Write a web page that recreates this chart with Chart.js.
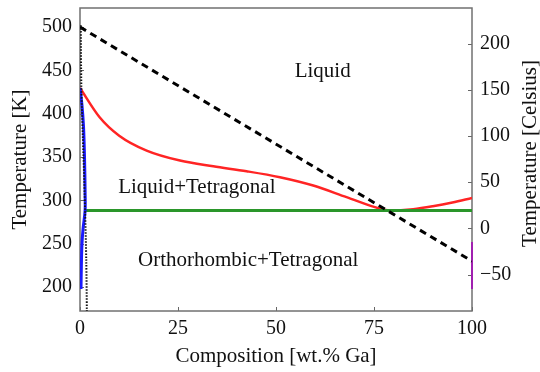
<!DOCTYPE html>
<html>
<head>
<meta charset="utf-8">
<script src="https://cdn.jsdelivr.net/npm/chart.js@4"></script>
<style>
  html, body { margin: 0; padding: 0; background: #fff; }
  #wrap { width: 540px; height: 372px; }
</style>
</head>
<body>
<div id="wrap"><canvas id="phaseChart"></canvas></div>
<script>
// In-Ga phase diagram, composition vs temperature
const compTicks = [0, 25, 50, 75, 100];
const kelvinTicks = [200, 250, 300, 350, 400, 450, 500];
const celsiusTicks = [-50, 0, 50, 100, 150, 200];

// liquidus (red)
const liquidusX = [0, 5, 10, 17, 25.5, 34, 42.5, 51, 59.5, 68, 76.5, 79, 85, 90, 95, 100];
const liquidusT = [429.75, 396, 374.7, 357.5, 346, 339.4, 333.7, 326.8, 317.2, 303.8, 290.5, 288.5, 290, 293.3, 297.6, 302.9];

// eutectic line (green)
const eutecticX = [1.3, 100];
const eutecticT = [288.5, 288.5];

// In-rich solidus / solvus (blue)
const solidusX = [0, 0.5, 0.9, 1.15, 1.3, 1.3, 0.8, 0.5, 0.35, 0.25];
const solidusT = [429.75, 410, 385, 350, 310, 288.5, 268, 250, 225, 198];

// Ga-side solidus (purple)
const gaSideX = [100, 100];
const gaSideT = [198, 252];

// T0 line (black dashed)
const t0X = [0, 100];
const t0T = [500, 230];

// metastable boundary (black dotted)
const dottedX = [0.2, 0.35, 0.9, 1.3, 1.6, 1.75];
const dottedT = [502, 430, 350, 288, 230, 172.5];

// region labels
const regionNames = ['Liquid', 'Liquid+Tetragonal', 'Orthorhombic+Tetragonal'];
const regionX = [61.9, 29.8, 42.9];
const regionT = [448.6, 315.3, 230.2];

const serif = '"Liberation Serif", "DejaVu Serif", serif';

function pts(xs, ys) {
    return xs.map((x, i) => ({ x: x, y: ys[i] }));
}

// fixed box sizes, no label overflow padding
function fixBox(size) {
    return s => {
        if (s.isHorizontal()) s.height = size; else s.width = size;
        s.paddingTop = 0; s.paddingBottom = 0;
        s.paddingLeft = 0; s.paddingRight = 0;
    };
}

const frameAndExtras = {
    id: 'frameAndExtras',
    beforeDatasetsDraw(chart) {
        const { ctx, chartArea: a, scales } = chart;
        ctx.save();
        // inside tick marks
        ctx.strokeStyle = '#666';
        ctx.lineWidth = 1;
        compTicks.forEach(v => {
            const px = Math.round(scales.x.getPixelForValue(v)) + 0.5;
            ctx.beginPath(); ctx.moveTo(px, a.bottom); ctx.lineTo(px, a.bottom - 4); ctx.stroke();
        });
        kelvinTicks.forEach(v => {
            const py = Math.round(scales.y.getPixelForValue(v)) + 0.5;
            ctx.beginPath(); ctx.moveTo(a.left, py); ctx.lineTo(a.left + 4, py); ctx.stroke();
        });
        celsiusTicks.forEach(v => {
            const py = Math.round(scales.y2.getPixelForValue(v)) + 0.5;
            ctx.beginPath(); ctx.moveTo(a.right, py); ctx.lineTo(a.right - 4, py); ctx.stroke();
        });
        // frame
        ctx.strokeStyle = '#707070';
        ctx.lineWidth = 1.5;
        ctx.strokeRect(a.left, a.top, a.right - a.left, a.bottom - a.top);
        ctx.restore();
    },
    afterDatasetsDraw(chart) {
        const { ctx, chartArea: a, scales } = chart;
        ctx.save();
        // region labels
        ctx.fillStyle = '#111';
        ctx.font = '21px ' + serif;
        ctx.textAlign = 'center';
        ctx.textBaseline = 'middle';
        regionNames.forEach((t, i) => {
            ctx.fillText(t, scales.x.getPixelForValue(regionX[i]), scales.y.getPixelForValue(regionT[i]));
        });

        // right axis title, reading upward
        ctx.translate(530, (a.top + a.bottom) / 2 - 6);
        ctx.rotate(-Math.PI / 2);
        ctx.fillText('Temperature [Celsius]', 0, 0);
        ctx.restore();
    }
};

const ctx = document.getElementById('phaseChart');
new Chart(ctx, {
    type: 'line',
    data: {
        datasets: [
            {
                label: 'dotted',
                data: pts(dottedX, dottedT),
                borderColor: '#111',
                borderWidth: 2,
                borderDash: [1.5, 1.5],
                tension: 0.3,
                pointRadius: 0
            },
            {
                label: 'T0',
                data: pts(t0X, t0T),
                borderColor: '#000',
                borderWidth: 3,
                borderDash: [7, 5],
                pointRadius: 0
            },
            {
                label: 'solidus',
                data: pts(solidusX, solidusT),
                borderColor: '#1a1aff',
                borderWidth: 3,
                tension: 0.35,
                pointRadius: 0
            },
            {
                label: 'eutectic',
                data: pts(eutecticX, eutecticT),
                borderColor: '#2a962a',
                borderWidth: 3,
                pointRadius: 0
            },
            {
                label: 'liquidus',
                data: pts(liquidusX, liquidusT),
                borderColor: '#ff2424',
                borderWidth: 2.5,
                cubicInterpolationMode: 'monotone',
                pointRadius: 0
            },
            {
                label: 'Ga side',
                data: pts(gaSideX, gaSideT),
                borderColor: '#a020b0',
                borderWidth: 2,
                clip: false,
                pointRadius: 0
            }
        ]
    },
    options: {
        responsive: true,
        maintainAspectRatio: false,
        animation: false,
        layout: { padding: { top: 8, left: 0, right: 0, bottom: 0 } },
        plugins: {
            legend: { display: false },
            tooltip: { enabled: false }
        },
        scales: {
            x: {
                type: 'linear',
                min: 0,
                max: 100,
                afterFit: fixBox(61),
                afterBuildTicks: s => { s.ticks = compTicks.map(v => ({ value: v })); },
                grid: { display: false, drawTicks: false },
                border: { display: false },
                ticks: { color: '#111', font: { family: serif, size: 20 }, padding: 6, maxRotation: 0 },
                title: {
                    display: true,
                    text: 'Composition [wt.% Ga]',
                    color: '#111',
                    font: { family: serif, size: 21 },
                    padding: { top: 0, bottom: 3 }
                }
            },
            y: {
                type: 'linear',
                position: 'left',
                min: 172.5,
                max: 522,
                afterFit: fixBox(80),
                afterBuildTicks: s => { s.ticks = kelvinTicks.map(v => ({ value: v })); },
                grid: { display: false, drawTicks: false },
                border: { display: false },
                ticks: { color: '#111', font: { family: serif, size: 20 }, padding: 8 },
                title: {
                    display: true,
                    text: 'Temperature [K]',
                    color: '#111',
                    font: { family: serif, size: 21 },
                    padding: { top: 8, bottom: 0 }
                }
            },
            y2: {
                type: 'linear',
                position: 'right',
                display: true,
                min: -89.5,
                max: 238.7,
                afterFit: fixBox(68),
                afterBuildTicks: s => { s.ticks = celsiusTicks.map(v => ({ value: v })); },
                grid: { display: false, drawTicks: false },
                border: { display: false },
                ticks: {
                    color: '#111',
                    font: { family: serif, size: 20 },
                    padding: 8,
                    callback: v => (v < 0 ? '\u2212' + Math.abs(v) : String(v))
                }
            }
        }
    },
    plugins: [frameAndExtras]
});
</script>
</body>
</html>
